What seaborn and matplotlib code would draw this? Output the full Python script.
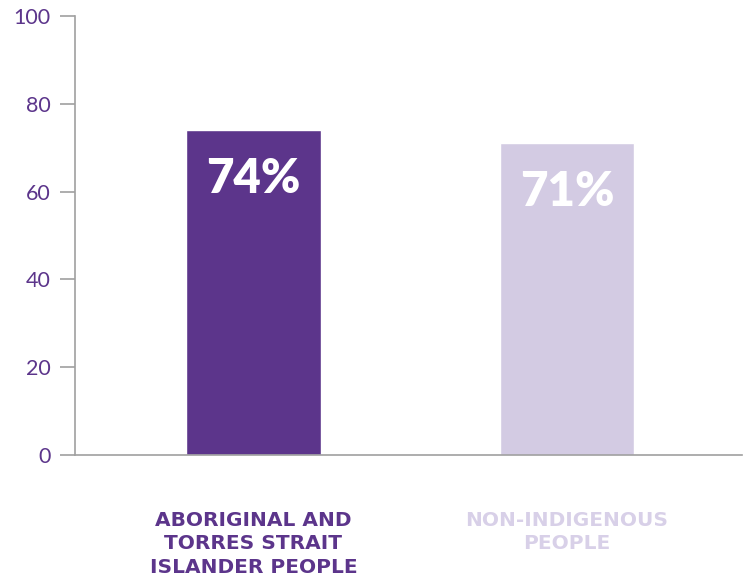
import matplotlib
matplotlib.use("Agg")
import matplotlib.pyplot as plt
import seaborn as sns
import pandas as pd

categories = ["ABORIGINAL AND\nTORRES STRAIT\nISLANDER PEOPLE", "NON-INDIGENOUS\nPEOPLE"]
values = [74, 71]
bar_colors = ["#5c358b", "#d3cbe3"]
label_colors = ["#5c358b", "#d8d0e8"]
y_ticks = [0, 20, 40, 60, 80, 100]

sns.set_theme(style="white")
plt.rcParams["font.family"] = ["Lato", "DejaVu Sans"]

df = pd.DataFrame({"group": categories, "value": values})

fig = plt.figure(figsize=(7.43, 5.80), dpi=100)
ax = fig.add_axes([75 / 743, 1 - 455 / 580, 667 / 743, (455 - 16) / 580])

sns.barplot(data=df, x="group", y="value", hue="group", palette=bar_colors,
            width=0.43, legend=False, ax=ax, saturation=1)

ax.set_ylim(0, 100)
ax.set_xlim(-0.569, 1.558)
ax.set_yticks(y_ticks)
ax.set_xlabel("")
ax.set_ylabel("")

for spine in ["top", "right"]:
    ax.spines[spine].set_visible(False)
for spine in ["left", "bottom"]:
    ax.spines[spine].set_color("#a0a0a0")
    ax.spines[spine].set_linewidth(1.2)

ax.tick_params(axis="y", length=10.8, width=1.2, color="#a0a0a0", pad=7,
               labelsize=15.5, labelcolor="#5c358b", left=True)
ax.tick_params(axis="x", length=0, pad=40, labelsize=14.5)

for lbl, c in zip(ax.get_xticklabels(), label_colors):
    lbl.set_color(c)
    lbl.set_family(["DejaVu Sans"])
    lbl.set_fontweight("bold")
    lbl.set_linespacing(1.32)
    lbl.set_va("top")

for patch, v in zip(ax.patches, values):
    cx = patch.get_x() + patch.get_width() / 2
    ax.annotate(f"{v}%", xy=(cx, patch.get_height()), xytext=(0, -19.5),
                textcoords="offset points", ha="center", va="top",
                color="white", fontsize=34, fontweight="heavy")

fig.savefig("out.png", dpi=100)
